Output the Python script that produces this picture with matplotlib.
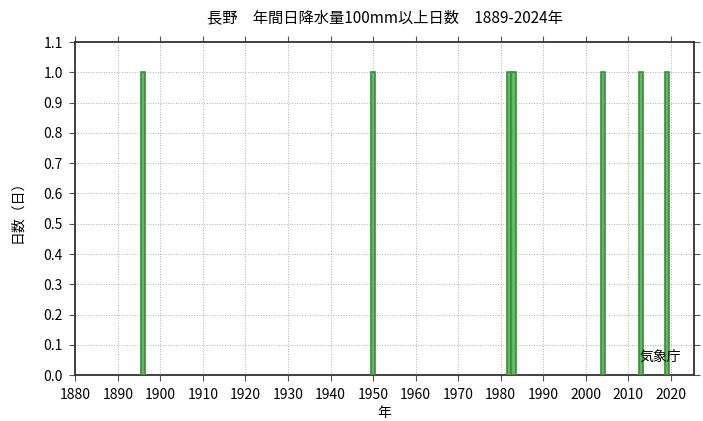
import matplotlib
matplotlib.use("Agg")
import matplotlib.pyplot as plt

plt.rcParams['font.family'] = ['Noto Sans CJK JP', 'DejaVu Sans']

years = [1896, 1950, 1982, 1983, 2004, 2013, 2019]
days = [1, 1, 1, 1, 1, 1, 1]

xticks = list(range(1880, 2021, 10))
yticks = [i / 10 for i in range(0, 12)]

fig = plt.figure(figsize=(7.03, 4.21), dpi=100)
ax = fig.add_axes([0.107, 0.109, 0.880, 0.791])

ax.bar(years, days, width=1.0, color="#5fbb5f", edgecolor="#3c8c3c", linewidth=1.2, zorder=3)

ax.set_xlim(1880, 2025.4)
ax.set_ylim(0, 1.1)
ax.set_xticks(xticks)
ax.set_yticks(yticks)
ax.set_yticklabels([f"{v:.1f}" for v in yticks])
ax.grid(True, linestyle=":", color="#b0b0b0", linewidth=0.7, zorder=0)
ax.tick_params(direction="out", length=4, top=True, right=True, labelsize=10,
               color="#555555", pad=5)
for s in ax.spines.values():
    s.set_linewidth(1.3)
    s.set_color("#333333")

ax.set_title("長野　年間日降水量100mm以上日数　1889-2024年", fontsize=11, pad=14)
ax.set_xlabel("年", fontsize=10, labelpad=3)
ax.set_ylabel("日数（日）", fontsize=10, labelpad=14)
ax.text(2017.5, 0.06, "気象庁", fontsize=10, ha="center", va="center", zorder=4)

fig.savefig("out.png", dpi=100)
